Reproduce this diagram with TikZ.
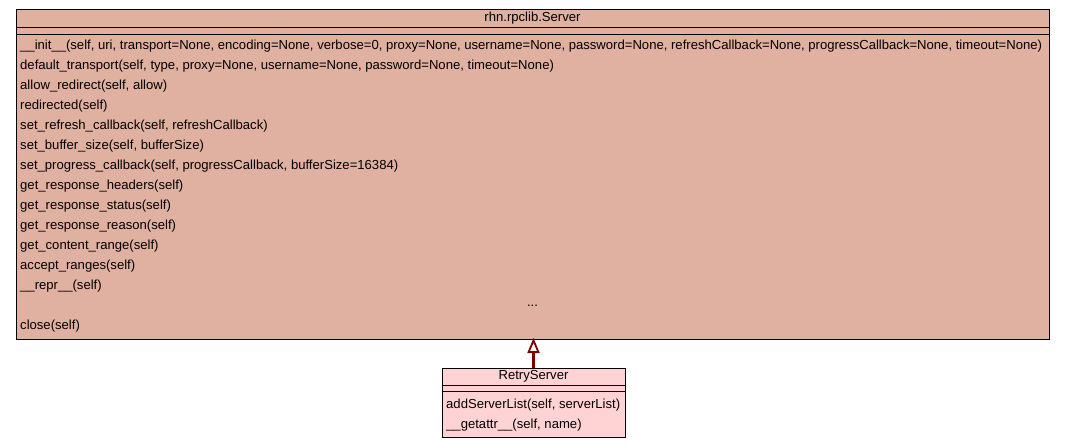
\documentclass[tikz,border=0pt]{standalone}
\usepackage{fontspec}
\setmainfont{Liberation Sans}
\usetikzlibrary{arrows.meta}
\definecolor{bigfill}{RGB}{224,176,160}
\definecolor{smallfill}{RGB}{255,211,211}
\definecolor{arrowred}{RGB}{128,0,0}
\tikzset{
  txt/.style={inner sep=0pt, anchor=west, font=\fontsize{13.1}{15}\selectfont},
  ttl/.style={inner sep=0pt, anchor=center, font=\fontsize{13.1}{15}\selectfont},
  boxline/.style={draw=black, line width=1pt},
}
\begin{document}
\begin{tikzpicture}[x=1pt,y=-1pt]
\useasboundingbox (0,0) rectangle (1065,447);
% big class
\path[boxline, fill=bigfill] (16,9.5) rectangle (1049,339);
\draw[boxline] (16,27.5) -- (1049,27.5);
\draw[boxline] (16,34.5) -- (1049,34.5);
\node[ttl] (bigtitle) at (532.5,18.5) {rhn.rpclib.Server};
\node[txt] (m1) at (20,46) {\_\_init\_\_(self, uri, transport=None, encoding=None, verbose=0, proxy=None, username=None, password=None, refreshCallback=None, progressCallback=None, timeout=None)};
\node[txt] (m2) at (20,66) {default\_transport(self, type, proxy=None, username=None, password=None, timeout=None)};
\node[txt] (m3) at (20,86) {allow\_redirect(self, allow)};
\node[txt] (m4) at (20,106) {redirected(self)};
\node[txt] (m5) at (20,126) {set\_refresh\_callback(self, refreshCallback)};
\node[txt] (m6) at (20,146) {set\_buffer\_size(self, bufferSize)};
\node[txt] (m7) at (20,166) {set\_progress\_callback(self, progressCallback, bufferSize=16384)};
\node[txt] (m8) at (20,186) {get\_response\_headers(self)};
\node[txt] (m9) at (20,206) {get\_response\_status(self)};
\node[txt] (m10) at (20,226) {get\_response\_reason(self)};
\node[txt] (m11) at (20,246) {get\_content\_range(self)};
\node[txt] (m12) at (20,266) {accept\_ranges(self)};
\node[txt] (m13) at (20,286) {\_\_repr\_\_(self)};
\node[ttl] (dots) at (532.5,306) {...};
\node[txt] (m14) at (20,326) {close(self)};
\coordinate (bigbottom) at (533.5,338);
% small class
\path[boxline, fill=smallfill] (442,368) rectangle (625,437);
\draw[boxline] (442,385) -- (625,385);
\draw[boxline] (442,391) -- (625,391);
\node[ttl] (smalltitle) at (533.5,376.5) {RetryServer};
\node[txt] (s1) at (446,405) {addServerList(self, serverList)};
\node[txt] (s2) at (446,425) {\_\_getattr\_\_(self, name)};
\coordinate (smalltop) at (533.5,368);
% inheritance
\draw[arrowred, line width=2.8pt, -{Triangle[open, length=15pt, width=12pt, line width=1.8pt]}] (smalltop) -- (bigbottom);
\end{tikzpicture}
\end{document}
